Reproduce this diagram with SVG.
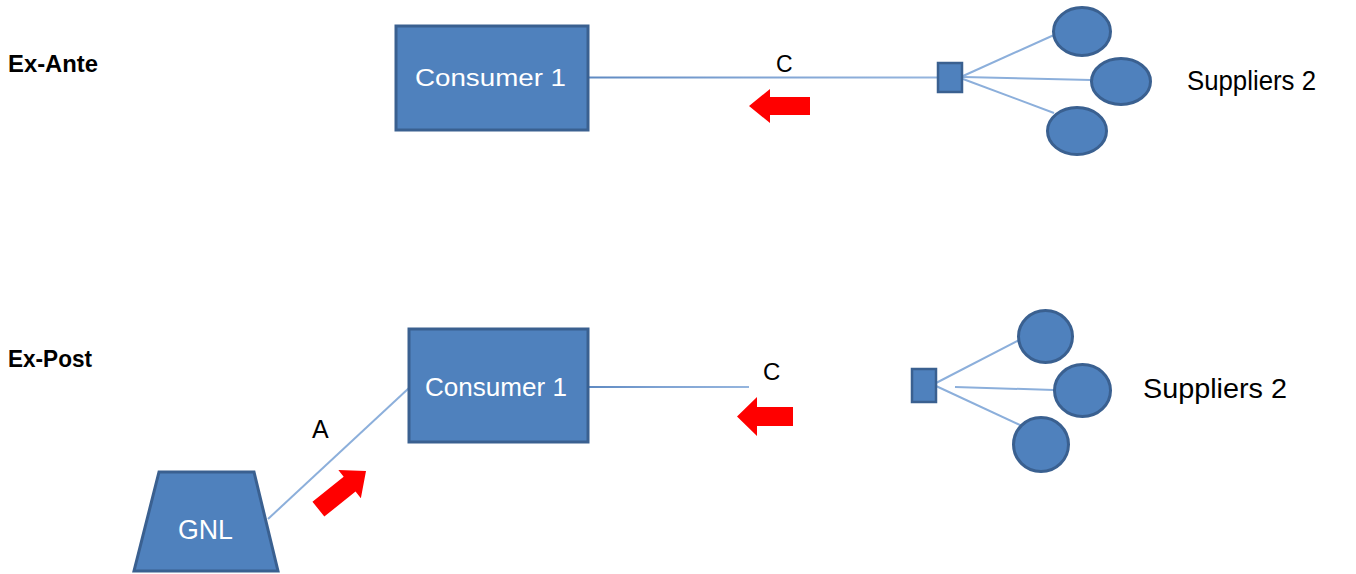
<svg xmlns="http://www.w3.org/2000/svg" width="1356" height="574" viewBox="0 0 1356 574">
  <style>
    .shape { fill: #4f81bd; stroke: #3a6090; stroke-width: 3; }
    .hub { fill: #4f81bd; stroke: #3a6090; stroke-width: 2.5; }
    .link { fill: none; stroke: #8cafdb; stroke-width: 2; }
    .flow { fill: #ff0000; }
    .inner { font-family: "Liberation Sans", Arial, sans-serif; fill: #ffffff; }
    .label { font-family: "Liberation Sans", Arial, sans-serif; fill: #000000; }
    .title { font-family: "Liberation Sans", Arial, sans-serif; font-weight: bold; fill: #000000; }
  </style>
  <defs>
    <!-- horizontal lines fade from the box colour to a light blue -->
    <linearGradient id="fadeTop" gradientUnits="userSpaceOnUse" x1="589" y1="0" x2="937" y2="0">
      <stop offset="0" stop-color="#5f8ac2"/>
      <stop offset="0.45" stop-color="#7fa3d3"/>
      <stop offset="1" stop-color="#95b5de"/>
    </linearGradient>
    <linearGradient id="fadeBottom" gradientUnits="userSpaceOnUse" x1="589" y1="0" x2="749" y2="0">
      <stop offset="0" stop-color="#5f8ac2"/>
      <stop offset="0.45" stop-color="#7fa3d3"/>
      <stop offset="1" stop-color="#95b5de"/>
    </linearGradient>
  </defs>
  <rect width="1356" height="574" fill="#ffffff"/>

  <!-- section titles -->
  <text class="title" x="8" y="72" font-size="23.5" textLength="90" lengthAdjust="spacingAndGlyphs">Ex-Ante</text>
  <text class="title" x="8" y="367" font-size="23" textLength="84" lengthAdjust="spacingAndGlyphs">Ex-Post</text>

  <!-- connectors -->
  <g id="connectors">
    <!-- upper scenario -->
    <line x1="589" y1="77.5" x2="937" y2="77.5" stroke="url(#fadeTop)" stroke-width="2"/>
    <line class="link" x1="963" y1="76" x2="1054" y2="35"/>
    <line class="link" x1="963" y1="77" x2="1091" y2="80"/>
    <line class="link" x1="963" y1="79" x2="1054" y2="113"/>
    <!-- lower scenario -->
    <line x1="589" y1="387" x2="749" y2="387" stroke="url(#fadeBottom)" stroke-width="2"/>
    <line class="link" x1="268" y1="519" x2="409" y2="388"/>
    <line class="link" x1="936" y1="383" x2="1019" y2="340"/>
    <line class="link" x1="955" y1="387" x2="1054" y2="390"/>
    <line class="link" x1="936" y1="386" x2="1022" y2="426"/>
  </g>

  <!-- connector labels -->
  <text class="label" x="776" y="72" font-size="23">C</text>
  <text class="label" x="763" y="380" font-size="24">C</text>
  <text class="label" x="312" y="438" font-size="25">A</text>

  <!-- flow arrows -->
  <g id="flows">
    <path class="flow" transform="translate(749,106)" d="M0,0 L21,-17 L21,-9 L61,-9 L61,9 L21,9 L21,17 Z"/>
    <path class="flow" transform="translate(737,416.5)" d="M0,0 L20,-19.5 L20,-9.5 L56,-9.5 L56,9.5 L20,9.5 L20,19.5 Z"/>
    <path class="flow" transform="translate(366,471) rotate(-38.7)" d="M0,0 L-21,-18 L-21,-9.5 L-61,-9.5 L-61,9.5 L-21,9.5 L-21,18 Z"/>
  </g>

  <!-- upper scenario nodes -->
  <g id="consumer-ante">
    <rect class="shape" x="396" y="26" width="192" height="104"/>
    <text class="inner" x="415" y="86" font-size="23" textLength="151" lengthAdjust="spacingAndGlyphs">Consumer 1</text>
  </g>
  <g id="hub-ante">
    <rect class="hub" x="938" y="63" width="24" height="29"/>
  </g>
  <g id="supplier-ante-1">
    <ellipse class="shape" cx="1082" cy="31.5" rx="28.5" ry="24"/>
  </g>
  <g id="supplier-ante-2">
    <ellipse class="shape" cx="1121" cy="81.5" rx="29.5" ry="23"/>
  </g>
  <g id="supplier-ante-3">
    <ellipse class="shape" cx="1077" cy="131" rx="29.5" ry="23.5"/>
  </g>
  <g id="suppliers-ante-label">
    <text class="label" x="1187" y="90" font-size="27" textLength="129" lengthAdjust="spacingAndGlyphs">Suppliers 2</text>
  </g>

  <!-- lower scenario nodes -->
  <g id="gnl">
    <polygon class="shape" points="159,472 254,472 278,571 134,571"/>
    <text class="inner" x="178" y="539" font-size="27" textLength="55" lengthAdjust="spacingAndGlyphs">GNL</text>
  </g>
  <g id="consumer-post">
    <rect class="shape" x="409" y="329" width="179" height="113"/>
    <text class="inner" x="425" y="396" font-size="25" textLength="142" lengthAdjust="spacingAndGlyphs">Consumer 1</text>
  </g>
  <g id="hub-post">
    <rect class="hub" x="912" y="369" width="24" height="33"/>
  </g>
  <g id="supplier-post-1">
    <ellipse class="shape" cx="1045.5" cy="336.5" rx="27" ry="26"/>
  </g>
  <g id="supplier-post-2">
    <ellipse class="shape" cx="1082.5" cy="390.5" rx="28" ry="26"/>
  </g>
  <g id="supplier-post-3">
    <ellipse class="shape" cx="1041" cy="444.5" rx="27.5" ry="27"/>
  </g>
  <g id="suppliers-post-label">
    <text class="label" x="1143" y="398" font-size="27" textLength="144" lengthAdjust="spacingAndGlyphs">Suppliers 2</text>
  </g>
</svg>
